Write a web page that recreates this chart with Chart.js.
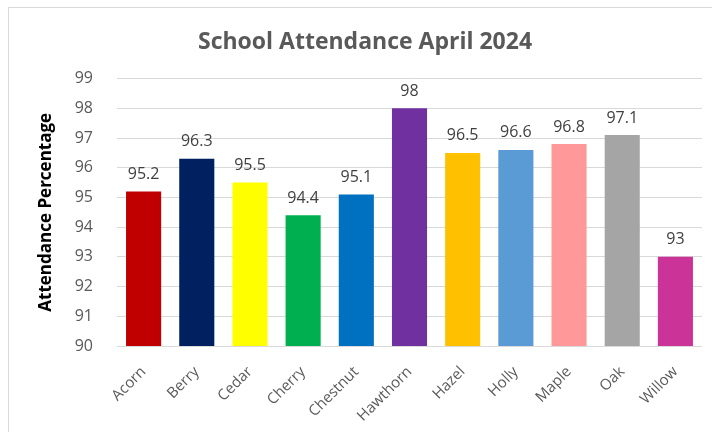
<!DOCTYPE html>
<html>
<head>
<meta charset="utf-8">
<script src="https://cdn.jsdelivr.net/npm/chart.js@4/dist/chart.umd.min.js"></script>
<style>
    html, body { margin: 0; padding: 0; background: #fff; overflow: hidden; }
    #frame { position: absolute; left: 8px; top: 7px; width: 760px; height: 480px; border: 1px solid #d9d9d9; }
    #wrap { position: absolute; left: 0; top: 0; width: 712px; height: 432px; }
</style>
</head>
<body>
<div id="frame"></div>
<div id="wrap"><canvas id="chart"></canvas></div>
<script>
const classes = ['Acorn', 'Berry', 'Cedar', 'Cherry', 'Chestnut', 'Hawthorn', 'Hazel', 'Holly', 'Maple', 'Oak', 'Willow'];
const attendance = [95.2, 96.3, 95.5, 94.4, 95.1, 98, 96.5, 96.6, 96.8, 97.1, 93];
const barColours = ['#c00000', '#002060', '#ffff00', '#00b050', '#0070c0', '#7030a0', '#ffc000', '#5b9bd5', '#ff9999', '#a5a5a5', '#cc3399'];
const yTicks = [90, 91, 92, 93, 94, 95, 96, 97, 98, 99];

const font = '"Open Sans", "Noto Sans", sans-serif';

// draws the value above each bar, like excel data labels
const valueLabels = {
    id: 'valueLabels',
    afterDatasetsDraw(chart) {
        const ctx = chart.ctx;
        const meta = chart.getDatasetMeta(0);
        ctx.save();
        ctx.font = `16px ${font}`;
        ctx.fillStyle = '#404040';
        ctx.textAlign = 'center';
        ctx.textBaseline = 'middle';
        meta.data.forEach((bar, i) => {
            ctx.fillText(String(attendance[i]), bar.x, bar.y - 17);
        });
        ctx.restore();
    },
};

new Chart(document.getElementById('chart'), {
    type: 'bar',
    data: {
        labels: classes,
        datasets: [{
            data: attendance,
            backgroundColor: barColours,
            barPercentage: 0.66,
            categoryPercentage: 1,
        }],
    },
    options: {
        responsive: true,
        maintainAspectRatio: false,
        animation: false,
        layout: { padding: { left: 28, right: 10, top: 0, bottom: 0 } },
        scales: {
            x: {
                grid: { display: false },
                border: { display: false },
                ticks: {
                    color: '#595959',
                    font: { family: font, size: 15 },
                    maxRotation: 45,
                    minRotation: 45,
                    padding: 9,
                },
                afterFit: (scale) => { scale.height = 86; },
            },
            y: {
                min: 90,
                max: 99,
                afterBuildTicks: (scale) => { scale.ticks = yTicks.map((v) => ({ value: v })); },
                grid: { color: '#d9d9d9', drawTicks: false },
                border: { display: false },
                ticks: {
                    color: '#595959',
                    font: { family: font, size: 16 },
                    padding: 24,
                },
                title: {
                    display: true,
                    text: 'Attendance Percentage',
                    color: '#000',
                    font: { family: font, size: 17, weight: 'bold' },
                    padding: { top: 8, bottom: 0 },
                },
                afterFit: (scale) => { scale.width = 89; },
            },
        },
        plugins: {
            legend: { display: false },
            tooltip: { enabled: false },
            title: {
                display: true,
                text: 'School Attendance April 2024',
                color: '#595959',
                font: { family: font, size: 23, weight: 'bold' },
                padding: { top: 29, bottom: 22 },
            },
        },
    },
    plugins: [valueLabels],
});
</script>
</body>
</html>
